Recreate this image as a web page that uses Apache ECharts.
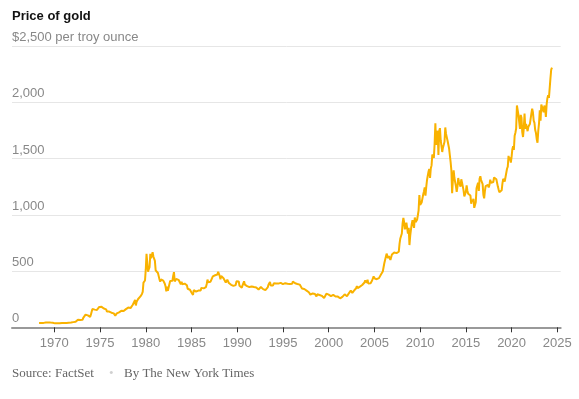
<!DOCTYPE html>
<html><head><meta charset="utf-8">
<script src="https://cdn.jsdelivr.net/npm/echarts@6/dist/echarts.min.js"></script>
<style>html,body{margin:0;padding:0;background:#fff}#c{width:579px;height:399px}</style>
</head><body><div id="c"></div>
<script>
const chartTitle = 'Price of gold';
const unitLabel = '$2,500 per troy ounce';
const sourceText = 'Source: FactSet';
const bylineText = 'By The New York Times';
const xTickYears = [1970, 1975, 1980, 1985, 1990, 1995, 2000, 2005, 2010, 2015, 2020, 2025];
const yTicks = [0, 500, 1000, 1500, 2000, 2500];

// Month-end prices, starting April 1968
const firstYear = 1968, firstMonth = 4;
const prices1960s = [39.0,41.5,41.0,39.3,39.5,39.5,39.3,40.0,41.9,
  42.8,42.6,43.8,43.3,43.5,41.3,41.8,41.1,40.9,40.4,35.6,35.2];
const prices1970s = [34.9,35.0,35.1,35.7,35.9,35.4,35.3,35.4,36.2,37.5,37.4,37.4,
  38.0,38.9,38.9,39.0,40.5,40.1,41.0,42.8,42.0,42.5,42.9,43.6,
  46.0,48.5,48.4,49.3,57.0,65.0,67.8,67.5,65.0,64.5,63.0,64.9,
  66.0,84.0,86.0,92.0,113.0,123.3,116.0,106.0,100.0,99.0,92.3,112.3,
  139.0,163.0,172.0,172.5,157.0,144.0,152.0,154.0,151.0,158.5,181.0,186.5,
  175.8,181.8,177.3,167.0,167.0,166.3,166.7,159.8,141.3,142.9,138.3,140.3,
  128.2,132.3,129.6,128.4,125.5,123.8,112.5,104.0,116.0,123.2,130.3,134.5,
  132.3,142.8,148.9,147.7,143.0,143.0,144.1,146.0,154.1,161.5,160.5,164.9,
  175.3,182.3,181.6,170.9,184.2,183.1,200.3,208.1,217.1,242.6,194.0,226.0,
  233.7,251.3,240.1,245.3,274.6,277.5,296.5,315.1,397.3,382.0,415.7,512.0];
const prices1980s = [653.0,637.0,494.5,517.5,535.5,653.5,614.3,631.3,666.8,629.0,619.8,589.8,
  506.5,489.0,513.8,482.8,479.3,426.0,406.0,425.0,428.8,427.0,414.5,397.5,
  387.0,362.6,320.0,361.3,325.3,314.0,342.9,411.5,397.0,423.3,413.5,456.9,
  490.0,408.5,414.8,429.3,437.5,416.0,422.0,414.3,405.0,382.0,405.0,382.4,
  373.8,394.3,388.5,375.8,384.3,373.1,342.4,348.3,343.8,333.5,329.0,309.0,
  306.7,287.8,329.8,321.4,314.0,317.8,327.5,333.3,326.0,325.1,324.9,326.8,
  350.5,338.3,344.0,345.8,343.2,345.5,357.5,384.7,423.5,401.0,383.5,390.9,
  405.5,405.9,421.2,453.3,451.0,447.3,462.5,453.4,459.5,468.8,492.5,486.5,
  458.0,426.2,456.9,449.0,455.5,436.6,437.4,427.8,397.7,412.4,422.6,410.2,
  394.0,387.0,383.2,377.6,361.8,373.0,368.3,359.8,366.5,375.3,408.2,401.0];
const prices1990s = [415.1,407.7,368.5,367.8,363.1,352.2,372.3,387.8,408.4,379.5,384.9,386.2,
  366.0,362.7,355.7,357.7,360.4,368.4,362.9,347.4,354.9,357.5,366.3,353.2,
  354.1,353.1,341.7,336.4,337.5,343.4,357.7,340.0,349.0,339.3,334.2,333.0,
  330.5,327.6,337.8,354.3,377.5,378.5,401.8,371.6,355.5,369.6,370.9,391.8,
  377.9,381.6,389.2,376.5,387.6,388.3,384.0,385.8,394.9,389.1,383.1,383.3,
  374.9,376.4,392.0,389.8,385.3,387.1,383.4,382.4,384.0,382.7,387.8,387.0,
  405.6,400.7,396.4,391.3,390.6,382.0,385.3,386.5,379.0,379.5,371.3,369.3,
  345.5,358.6,348.2,340.2,345.6,334.6,326.4,325.4,332.1,311.4,296.8,290.2,
  304.9,297.4,301.0,310.7,293.6,296.3,288.9,273.4,293.9,292.3,294.7,287.5,
  287.1,287.3,279.5,286.6,268.6,261.0,255.6,254.8,299.0,299.1,291.4,290.3];
const prices2000s = [283.3,293.7,276.8,275.1,272.3,288.2,276.8,277.0,273.7,264.5,269.1,272.7,
  264.5,266.7,257.7,263.2,267.5,270.6,265.9,273.0,293.1,278.8,275.5,276.5,
  282.3,296.9,301.4,308.2,326.6,318.5,304.7,312.8,323.7,316.9,317.7,347.2,
  367.5,347.5,334.9,336.8,361.4,346.0,354.8,375.6,388.0,386.3,398.4,416.3,
  399.8,395.9,423.7,388.5,393.3,395.8,391.4,407.3,415.7,425.6,453.4,435.6,
  422.2,435.5,427.5,435.7,414.5,437.1,429.0,433.3,473.3,470.8,495.7,513.0,
  568.8,556.0,582.0,654.5,653.0,613.5,632.5,623.5,599.3,603.8,646.7,632.0,
  650.5,664.2,661.8,677.0,659.1,650.5,665.5,672.0,743.0,789.5,783.5,833.8,
  923.3,971.5,933.5,871.0,885.8,930.3,918.0,833.0,884.5,730.8,814.5,869.8,
  919.5,952.0,916.5,883.3,975.5,934.5,939.0,955.5,995.8,1040.0,1175.8,1087.5];
const prices2010s = [1078.5,1109.5,1115.5,1179.3,1207.5,1244.0,1169.0,1246.0,1307.0,1346.8,1383.5,1405.5,
  1327.0,1411.0,1439.0,1535.5,1536.5,1505.5,1628.5,1813.5,1620.0,1722.0,1746.0,1531.0,
  1744.0,1770.0,1662.5,1651.3,1558.0,1598.5,1622.0,1648.5,1776.0,1719.0,1726.0,1657.5,
  1664.8,1588.5,1598.3,1469.0,1394.5,1192.0,1314.5,1394.8,1326.5,1324.0,1253.0,1204.5,
  1251.0,1326.5,1291.8,1288.5,1250.5,1315.0,1285.3,1285.8,1216.5,1164.3,1182.8,1206.0,
  1260.3,1214.0,1187.0,1180.3,1190.6,1171.0,1098.4,1135.0,1115.5,1142.4,1061.9,1060.0,
  1111.8,1234.9,1237.0,1285.7,1212.1,1320.8,1342.0,1309.3,1322.5,1272.0,1178.1,1145.9,
  1212.8,1255.6,1244.9,1266.5,1266.2,1242.3,1267.6,1311.8,1283.1,1270.2,1280.2,1291.0,
  1331.3,1317.9,1323.9,1315.1,1298.0,1250.5,1223.7,1201.0,1187.3,1214.9,1217.6,1279.0,
  1319.8,1319.3,1295.4,1282.3,1295.6,1409.0,1427.6,1523.0,1485.3,1510.8,1463.9,1514.8];
const prices2020s = [1582.9,1609.9,1577.2,1702.8,1728.7,1768.1,1971.0,1969.0,1886.9,1879.9,1762.5,1887.6,
  1863.1,1734.0,1691.1,1767.7,1899.0,1763.2,1807.8,1813.6,1742.8,1781.4,1774.5,1805.9,
  1795.3,1900.4,1942.2,1911.3,1837.0,1817.0,1753.2,1726.2,1671.8,1640.3,1746.0,1812.4,
  1929.4,1836.7,1978.6,1992.7,1962.7,1912.3,1970.4,1942.3,1870.1,1983.2,2036.6,2062.4,
  2039.5,2024.1,2214.3,2291.0,2308.0];

const prices = [].concat(prices1960s, prices1970s, prices1980s, prices1990s, prices2000s, prices2010s, prices2020s);
const seriesData = prices.map((p, i) => [firstYear + (firstMonth + i) / 12, p]);

const chart = echarts.init(document.getElementById('c'), null, {renderer: 'canvas'});
const labelFont = '"Liberation Sans", Arial, sans-serif';
const serifFont = '"Liberation Serif", "Times New Roman", serif';
chart.setOption({
  animation: false,
  backgroundColor: '#ffffff',
  title: {
    text: chartTitle, left: 12, top: 10, padding: 0,
    textStyle: {fontFamily: labelFont, fontWeight: 'bold', fontSize: 13, color: '#121212'}
  },
  grid: {left: 12, right: 18.3, top: 46, bottom: 71.7, containLabel: false},
  xAxis: {
    type: 'value', min: 1965.375, max: 2025.37,
    splitLine: {show: false},
    axisLine: {show: true, lineStyle: {color: '#999999', width: 2}},
    axisTick: {show: true, customValues: xTickYears, length: 5, inside: false, lineStyle: {color: '#333333', width: 1}},
    axisLabel: {customValues: xTickYears, color: '#888888', fontSize: 13, fontFamily: labelFont, margin: 10,
      formatter: v => String(Math.round(v))}
  },
  yAxis: {
    type: 'value', min: yTicks[0], max: yTicks[yTicks.length - 1], interval: 500,
    axisLine: {show: false}, axisTick: {show: false},
    splitLine: {show: true, lineStyle: {color: '#e6e6e6', width: 1}},
    axisLabel: {
      inside: true, margin: 0, verticalAlign: 'bottom', color: '#888888', fontSize: 13, fontFamily: labelFont,
      showMinLabel: true, showMaxLabel: true, padding: [0, 0, 2, 0],
      formatter: v => v === 2500 ? unitLabel : v.toLocaleString('en-US')
    }
  },
  series: [{
    type: 'line', data: seriesData, showSymbol: false, symbol: 'none',
    lineStyle: {color: '#f9b200', width: 2}, itemStyle: {color: '#f9b200'}, z: 3
  }],
  graphic: [
    {type: 'text', left: 12, top: 367, style: {text: sourceText, fill: '#666666', font: '13px ' + serifFont}},
    {type: 'text', left: 109, top: 367, style: {text: '•', fill: '#d0d0d0', font: '13px ' + serifFont}},
    {type: 'text', left: 124, top: 367, style: {text: bylineText, fill: '#666666', font: '13px ' + serifFont}}
  ]
});
</script></body></html>
